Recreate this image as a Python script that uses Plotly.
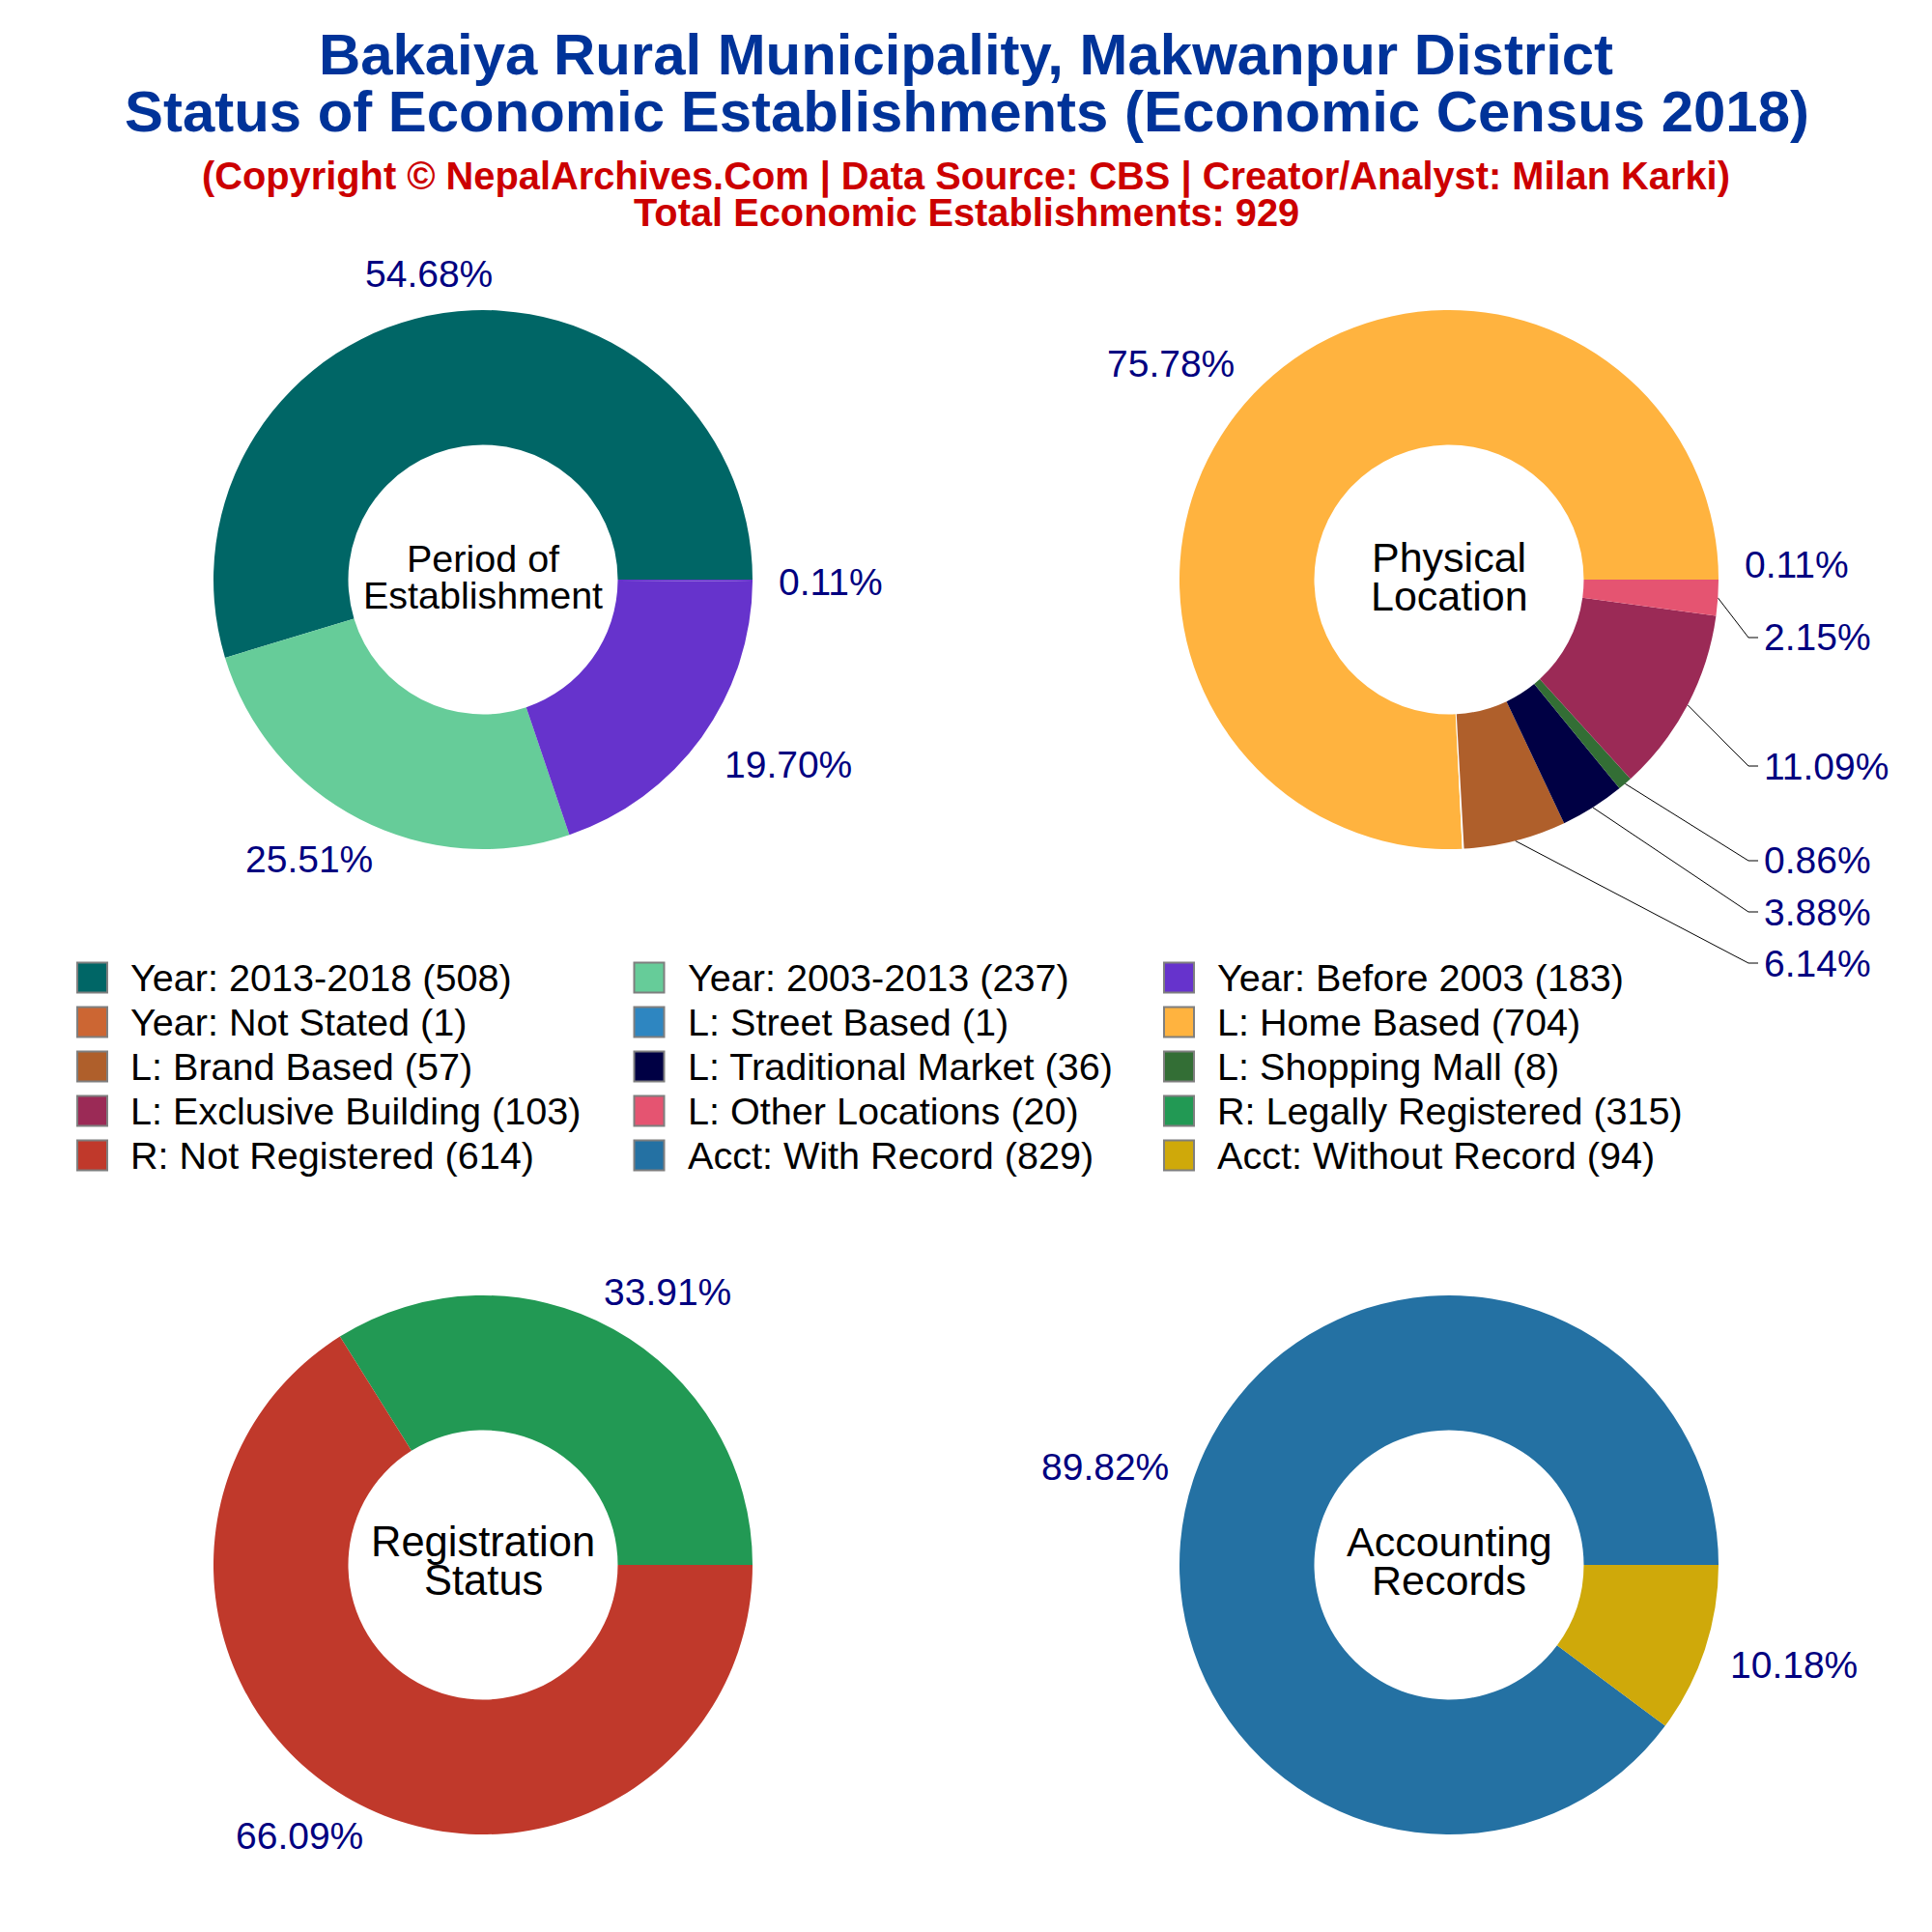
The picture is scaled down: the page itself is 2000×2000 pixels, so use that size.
import math

import plotly.graph_objects as go

# data
period_values = [508, 237, 183, 1]
period_colors = ["#006666", "#66CC99", "#6633CC", "#6633CC"]

location_values = [704, 1, 57, 36, 8, 103, 20]
location_colors = ["#FFB33F", "#FFFFFF", "#AF5F2B", "#000044", "#336E35", "#9B2A56", "#E55471"]

register_values = [315, 614]
register_colors = ["#229954", "#C0392B"]

account_values = [829, 94]
account_colors = ["#2471A3", "#CFA90A"]

legend_labels = [
    "Year: 2013-2018", "Year: 2003-2013", "Year: Before 2003",
    "Year: Not Stated", "L: Street Based", "L: Home Based",
    "L: Brand Based", "L: Traditional Market", "L: Shopping Mall",
    "L: Exclusive Building", "L: Other Locations", "R: Legally Registered",
    "R: Not Registered", "Acct: With Record", "Acct: Without Record",
]
legend_counts = [508, 237, 183, 1, 1, 704, 57, 36, 8, 103, 20, 315, 614, 829, 94]
legend_colors = [
    "#006666", "#66CC99", "#6633CC",
    "#CC6633", "#2E86C1", "#FFB33F",
    "#AF5F2B", "#000044", "#336E35",
    "#9B2A56", "#E55471", "#229954",
    "#C0392B", "#2471A3", "#CFA90A",
]

# layout, in page pixels; the page body has an 8px margin
PAGE = 2000
BODY = 8
SIZE = PAGE - BODY
legend_swatch_x = [95.5, 672, 1220.5]
legend_text_x = [133, 710, 1258]
legend_row_y = [1012, 1058, 1104, 1150, 1196]

pies = [
    dict(values=period_values, colors=period_colors, cx=500, cy=600, r=279,
         center=[("Period of", 578), ("Establishment", 616)], center_size=39.5,
         label_xy=[(444, 283), (320, 889), (816, 791), (860, 602)]),
    dict(values=location_values, colors=location_colors, cx=1500, cy=600, r=279,
         center=[("Physical", 577), ("Location", 617)], center_size=43,
         label_xy=[(1212, 376), (1860, 584), (1881, 997), (1881, 944),
                   (1881, 890), (1890, 793), (1881, 659)]),
    dict(values=register_values, colors=register_colors, cx=500, cy=1620, r=279,
         center=[("Registration", 1596), ("Status", 1636)], center_size=43.5,
         label_xy=[(691, 1337), (310, 1900)]),
    dict(values=account_values, colors=account_colors, cx=1500, cy=1620, r=279,
         center=[("Accounting", 1596), ("Records", 1636)], center_size=43,
         label_xy=[(1144, 1518), (1857, 1723)]),
]

# slice index in location_values -> elbow of its leader line
leader_elbows = {2: 997, 3: 944, 4: 891, 5: 793, 6: 660}

BLUE = "#003399"
RED = "#CC0000"
NAVY = "#000080"
FONT = "Liberation Sans"


def mid_angle(values, i):
    before = sum(values[:i]) + values[i] / 2
    return before / sum(values) * 2 * math.pi


def text(x, y, s, size, color="black", bold=False, anchor="center"):
    return dict(x=x, y=y, xref="x", yref="y", text="<b>%s</b>" % s if bold else s,
                showarrow=False, xanchor=anchor, yanchor="middle",
                font=dict(family=FONT, size=size, color=color))


fig = go.Figure()
annotations = []

for p in pies:
    total = sum(p["values"])
    fig.add_trace(go.Pie(
        values=p["values"], hole=0.5, sort=False, direction="counterclockwise",
        # plotly measures a counterclockwise pie from the far edge of its first slice
        rotation=90 - 360 * p["values"][0] / total,
        textinfo="none", showlegend=False,
        marker=dict(colors=p["colors"], line=dict(width=0)),
        domain=dict(x=[(p["cx"] - p["r"] - BODY) / SIZE, (p["cx"] + p["r"] - BODY) / SIZE],
                    y=[1 - (p["cy"] + p["r"] - BODY) / SIZE, 1 - (p["cy"] - p["r"] - BODY) / SIZE]),
    ))
    for v, (x, y) in zip(p["values"], p["label_xy"]):
        annotations.append(text(x, y, "%.2f%%" % (v / total * 100), 39, NAVY))
    for line, y in p["center"]:
        annotations.append(text(p["cx"], y, line, p["center_size"]))

# leader lines of the small location slices
loc = pies[1]
for i, elbow_y in leader_elbows.items():
    a = mid_angle(location_values, i)
    fig.add_trace(go.Scatter(
        x=[loc["cx"] + loc["r"] * math.cos(a), 1810, 1820],
        y=[loc["cy"] - loc["r"] * math.sin(a), elbow_y, elbow_y],
        mode="lines", line=dict(color="black", width=1), hoverinfo="skip", showlegend=False,
    ))

# legend, three columns filled row by row
swatch_x = [legend_swatch_x[i % 3] for i in range(len(legend_labels))]
swatch_y = [legend_row_y[i // 3] for i in range(len(legend_labels))]
fig.add_trace(go.Scatter(
    x=swatch_x, y=swatch_y, mode="markers", showlegend=False, text=legend_labels, hoverinfo="text",
    marker=dict(symbol="square", size=31, color=legend_colors, line=dict(color="#7F7F7F", width=2)),
))
for i, (label, count) in enumerate(zip(legend_labels, legend_counts)):
    annotations.append(text(legend_text_x[i % 3], swatch_y[i], "%s (%d)" % (label, count), 39.6, anchor="left"))

annotations.append(text(1001, 115, "Status of Economic Establishments (Economic Census 2018)", 59.9, BLUE, True))
annotations.append(text(1000, 182, "(Copyright © NepalArchives.Com | Data Source: CBS | Creator/Analyst: Milan Karki)", 39.8, RED, True))
annotations.append(text(1000, 220, "Total Economic Establishments: 929", 39.8, RED, True))

fig.update_layout(
    width=SIZE, height=SIZE, margin=dict(l=0, r=0, t=0, b=0),
    paper_bgcolor="white", plot_bgcolor="rgba(0,0,0,0)", showlegend=False,
    title=dict(text="<b>Bakaiya Rural Municipality, Makwanpur District</b>", x=(1000 - BODY) / SIZE, xanchor="center",
               y=1 - (56 - BODY) / SIZE, yanchor="middle", font=dict(family=FONT, size=59.9, color=BLUE)),
    xaxis=dict(range=[BODY, PAGE], visible=False, fixedrange=True),
    yaxis=dict(range=[PAGE, BODY], visible=False, fixedrange=True),
    annotations=annotations,
)

fig.write_html("out.html")
